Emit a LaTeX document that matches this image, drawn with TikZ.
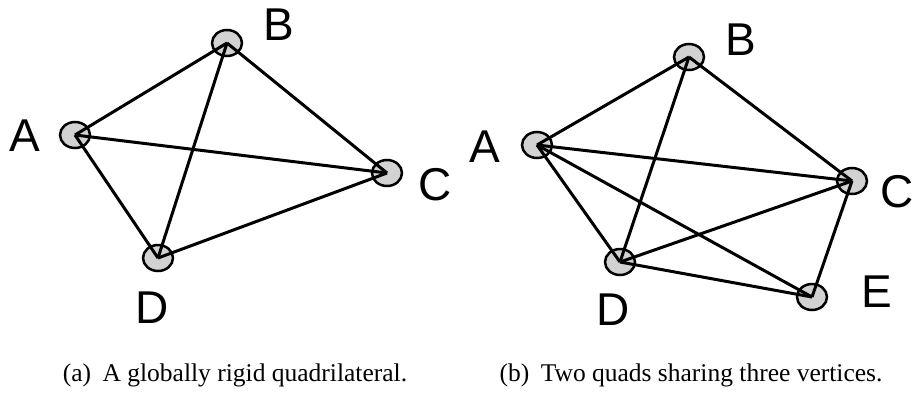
\documentclass[tikz,border=0pt]{standalone}
\usepackage{fontspec}
\setmainfont{Liberation Serif}
\newfontfamily\labfont{Liberation Sans}
\usetikzlibrary{shapes.geometric}
\begin{document}
\begin{tikzpicture}[x=1pt,y=-1pt,
  vert/.style={ellipse,draw=black,fill=gray!35,line width=2.5pt,minimum width=30pt,minimum height=26pt,inner sep=0pt},
  edge/.style={line width=3pt},
  lab/.style={font=\labfont\fontsize{46}{46}\selectfont,inner sep=0pt},
  captext/.style={font=\fontsize{25.5}{28}\selectfont,inner sep=0pt,anchor=base}]
\useasboundingbox (0,0) rectangle (913,394);
% left graph
\node[vert] (A1) at (75,135) {};
\node[vert] (B1) at (227,43) {};
\node[vert] (C1) at (387,173) {};
\node[vert] (D1) at (158,258) {};
\draw[edge] (A1.center) -- (B1.center);
\draw[edge] (B1.center) -- (C1.center);
\draw[edge] (A1.center) -- (C1.center);
\draw[edge] (A1.center) -- (D1.center);
\draw[edge] (B1.center) -- (D1.center);
\draw[edge] (D1.center) -- (C1.center);
\node[lab] (lA1) at (25,136) {A};
\node[lab] (lB1) at (279,25) {B};
\node[lab] (lC1) at (435,185) {C};
\node[lab] (lD1) at (152,308) {D};
% right graph
\node[vert] (A2) at (537,145) {};
\node[vert] (B2) at (689,57) {};
\node[vert] (C2) at (852,181) {};
\node[vert] (D2) at (620,262) {};
\node[vert] (E2) at (812,297) {};
\draw[edge] (A2.center) -- (B2.center);
\draw[edge] (B2.center) -- (C2.center);
\draw[edge] (A2.center) -- (C2.center);
\draw[edge] (A2.center) -- (D2.center);
\draw[edge] (B2.center) -- (D2.center);
\draw[edge] (D2.center) -- (C2.center);
\draw[edge] (A2.center) -- (E2.center);
\draw[edge] (D2.center) -- (E2.center);
\draw[edge] (C2.center) -- (E2.center);
\node[lab] (lA2) at (485,147) {A};
\node[lab] (lB2) at (741,40) {B};
\node[lab] (lC2) at (897,192) {C};
\node[lab] (lD2) at (613,310) {D};
\node[lab] (lE2) at (877,292) {E};
% captions
\node[captext] (capa) at (235,381) {(a)\hspace{0.45em}A globally rigid quadrilateral.};
\node[captext] (capb) at (691,381) {(b)\hspace{0.45em}Two quads sharing three vertices.};
\end{tikzpicture}
\end{document}
